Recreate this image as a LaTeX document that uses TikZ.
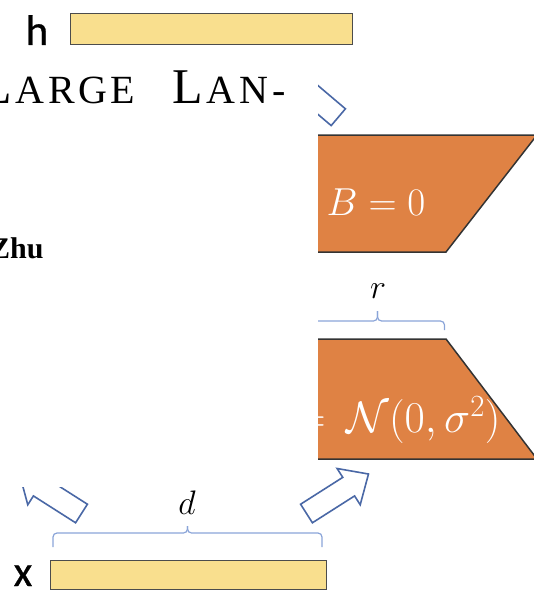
\RequirePackage{fix-cm}
\documentclass[tikz,border=0pt]{standalone}
\usepackage{amsmath,amssymb}
\usepackage{fontspec}
\usepackage{xcolor}
\usepackage{tikz}
\newfontfamily\calib{Carlito}[FakeBold=0.6]
\newfontfamily\titlefont{Liberation Serif}
\newcommand\trk{\kern3.7pt}
\definecolor{barfill}{HTML}{F9DF8E}
\definecolor{matfill}{HTML}{DF8244}
\definecolor{bracecol}{HTML}{8AA4D8}
\definecolor{arrowcol}{HTML}{4A68A6}

\begin{document}
\begin{tikzpicture}[x=1pt, y=-1pt,
        bar/.style={draw=black!70, line width=1.3pt, fill=barfill, inner sep=0pt, anchor=north west},
        mat/.style={draw=black!80, line width=1.5pt, fill=matfill},
        brace/.style={draw=bracecol, line width=1.2pt, rounded corners=4pt},
        hollow/.style={draw=arrowcol, line width=1.6pt, fill=white, line join=miter},
        lab/.style={inner sep=0pt, anchor=base, font=\calib\fontsize{43}{43}\selectfont},
        matlab/.style={inner sep=0pt, text=white},
        blockarrow/.pic={\draw[hollow] (0,-11) -- (50,-11) -- (50,-21.5) -- (73.5,0) -- (50,21.5) -- (50,11) -- (0,11) -- cycle;}]
        \useasboundingbox (0,0) rectangle (534,591);
        \clip (0,0) rectangle (534,591);
        % the two vectors
        \node[bar, minimum width=282, minimum height=31] (hbar) at (70,13) {};
        \node[bar, minimum width=276, minimum height=29] (xbar) at (50,560) {};
        \node[lab] (hlab) at (37,45) {h};
        \node[lab] (xlab) at (23,586) {x};
        % B and A
        \draw[mat] (218,135) -- (537,135) -- (446,252) -- (309,252) -- cycle;
        \draw[mat] (309,339) -- (446,339) -- (537,459) -- (218,459) -- cycle;
        \node[matlab, anchor=base west, font=\fontsize{39}{39}\selectfont] (Blab) at (326.5,215) {$B = 0$};
        \node[matlab, anchor=base east, font=\fontsize{44}{44}\selectfont] (Alab) at (500.7,432) {$=\mkern3.5mu\mathcal{N}(0,\sigma^2)$};
        % braces r and d
        \draw[brace] (310.5,330) |- (377.5,321) -- (377.5,311);
        \draw[brace] (444.5,330) |- (377.5,321) -- (377.5,311);
        \node[inner sep=0pt, anchor=base, font=\fontsize{34}{34}\selectfont] (rlab) at (378,298.5) {$r$};
        \draw[brace] (53,547) |- (187.5,533) -- (187.5,526);
        \draw[brace] (322,547) |- (187.5,533) -- (187.5,526);
        \node[inner sep=0pt, anchor=base, font=\fontsize{34}{34}\selectfont] (dlab) at (187,514) {$d$};
        % the hollow arrows
        \pic[rotate=32.5] at (306.5,513.5) {blockarrow};
        \pic[rotate=147.5] at (81.5,513.5) {blockarrow};
        \pic[rotate=139.7] at (338.3,117.2) {blockarrow};
        % the page laid over it
        \fill[white] (0,55) rectangle (318,487);
        \node[inner sep=0pt, anchor=base west, font=\titlefont] (large) at (-19,103)
            {\fontsize{50}{50}\selectfont L\trk\fontsize{40}{40}\selectfont A\trk R\trk G\trk E};
        \node[inner sep=0pt, anchor=base west, font=\titlefont] (lan) at (172.5,103)
            {\fontsize{50}{50}\selectfont L\trk\fontsize{40}{40}\selectfont A\trk N\trk -};
        \node[inner sep=0pt, anchor=base west, font=\titlefont\bfseries\fontsize{30}{30}\selectfont] (zhu) at (-10,258) {Zhu};
\end{tikzpicture}
\end{document}
